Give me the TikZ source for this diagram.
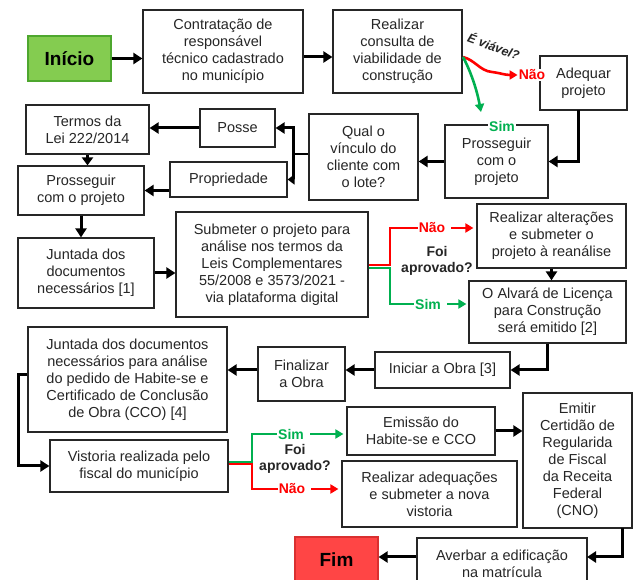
\documentclass[tikz,border=0pt]{standalone}
\usepackage{fontspec}
\setmainfont{Liberation Sans}
\usetikzlibrary{arrows.meta}
\definecolor{gr}{HTML}{00B050}
\definecolor{rd}{HTML}{FF0000}
\definecolor{inifill}{HTML}{84CC50}
\definecolor{inidraw}{HTML}{4EA72E}
\definecolor{fimfill}{HTML}{FF4545}
\definecolor{fimdraw}{HTML}{D93030}
\definecolor{txt}{HTML}{262626}
\newcommand\fsbox{\fontsize{14.5}{17}\selectfont}
\newcommand\fslbl{\bfseries\fontsize{14}{16.5}\selectfont}
\begin{document}
\begin{tikzpicture}[x=1pt,y=-1pt,
  box/.style={draw=black!85, line width=1.2pt, fill=white, align=center, inner sep=0pt, font=\fsbox, text=txt},
  blk/.style={line width=3pt, black, -{Triangle[length=9pt,width=11pt]}},
  gar/.style={line width=2pt, gr, -{Triangle[length=8pt,width=9pt]}},
  rar/.style={line width=2pt, rd, -{Triangle[length=8pt,width=9pt]}},
  gln/.style={line width=2pt, gr},
  rln/.style={line width=2pt, rd},
  lbl/.style={font=\fslbl, inner sep=1pt, fill=white},
  qlbl/.style={font=\fslbl, align=center, inner sep=0pt, text=txt},
]
\useasboundingbox (0,0) rectangle (633,580);
\fill[white] (0,0) rectangle (633,580);
\clip (0,0) rectangle (633,580);

% nodes
\node[box, draw=inidraw, fill=inifill, text=black, font=\bfseries\fontsize{19}{22}\selectfont, minimum width=83pt, minimum height=45pt] (inicio) at (69.5,58.5) {Início};
\node[box, minimum width=160pt, minimum height=83pt] (contr) at (223,51.5) {Contratação de\\responsável\\técnico cadastrado\\no município};
\node[box, minimum width=129pt, minimum height=83pt] (consulta) at (397.5,51.5) {Realizar\\consulta de\\viabilidade de\\construção};
\node[box, minimum width=87pt, minimum height=54pt] (adequar) at (583.5,83) {Adequar\\projeto};
\node[box, minimum width=103pt, minimum height=73pt] (prosR) at (496.5,161.5) {Prosseguir\\com o\\projeto};
\node[box, minimum width=109pt, minimum height=86pt] (qual) at (363.5,157) {Qual o\\vínculo do\\cliente com\\o lote?};
\node[box, minimum width=75pt, minimum height=38pt] (posse) at (237.5,128) {Posse};
\node[box, minimum width=117pt, minimum height=35pt] (prop) at (228.5,179.5) {Propriedade};
\node[box, minimum width=123pt, minimum height=49pt] (termos) at (87.5,129.5) {Termos da\\Lei 222/2014};
\node[box, minimum width=126pt, minimum height=49pt] (prosL) at (81,190.5) {Prosseguir\\com o projeto};
\node[box, minimum width=136pt, minimum height=70pt] (junt1) at (86,273) {Juntada dos\\documentos\\necessários [1]};
\node[box, minimum width=192pt, minimum height=105pt] (subm) at (272,264.5) {Submeter o projeto para\\análise nos termos da\\Leis Complementares\\55/2008 e 3573/2021 -\\via plataforma digital};
\node[box, minimum width=149pt, minimum height=64pt] (alter) at (551.5,236) {Realizar alterações\\e submeter o\\projeto à reanálise};
\node[box, minimum width=157pt, minimum height=62pt] (alvara) at (547.5,312) {O Alvará de Licença\\para Construção\\será emitido [2]};
\node[box, minimum width=135pt, minimum height=36pt] (iniciar) at (442.5,370) {Iniciar a Obra [3]};
\node[box, minimum width=87pt, minimum height=54pt] (final) at (301.5,374) {Finalizar\\a Obra};
\node[box, minimum width=199pt, minimum height=105pt] (junt4) at (127.5,379.5) {Juntada dos documentos\\necessários para análise\\do pedido de Habite-se e\\Certificado de Conclusão\\de Obra (CCO) [4]};
\node[box, minimum width=178pt, minimum height=52pt] (vist) at (139,466) {Vistoria realizada pelo\\fiscal do município};
\node[box, minimum width=148pt, minimum height=48pt] (emis) at (421,431) {Emissão do\\Habite-se e CCO};
\node[box, minimum width=175pt, minimum height=66pt] (adeq2) at (429.5,494) {Realizar adequações\\e submeter a nova\\vistoria};
\node[box, minimum width=109pt, minimum height=135pt] (emitir) at (577.5,460.5) {Emitir\\Certidão de\\Regularida\\de Fiscal\\da Receita\\Federal\\(CNO)};
\node[box, minimum width=170pt, minimum height=52pt] (averbar) at (502,564) {Averbar a edificação\\na matrícula};
\node[box, draw=fimdraw, fill=fimfill, text=black, font=\bfseries\fontsize{19}{22}\selectfont, minimum width=83pt, minimum height=45pt] (fim) at (336.5,559.5) {Fim};

% labels
\node[rotate=-20, font=\bfseries\itshape\fontsize{12.5}{14}\selectfont, text=txt, inner sep=0pt] (ev) at (494,46) {É viável?};
\node[lbl, text=rd] (n0) at (532,75) {Não};
\node[lbl, text=gr] (s0) at (502,126) {Sim};
\node[lbl, text=rd] (n1) at (432,228) {Não};
\node[lbl, text=gr] (s1) at (428,304) {Sim};
\node[qlbl] (fa1) at (437,261) {Foi\\aprovado?};
\node[lbl, text=gr] (s2) at (291,434) {Sim};
\node[lbl, text=rd] (n2) at (292,489) {Não};
\node[qlbl] (fa2) at (295,459) {Foi\\aprovado?};

% coordinates
\coordinate (cs) at (463,57);
\coordinate (aq) at (578,110);
\coordinate (qj) at (293,154);
\coordinate (b1r) at (390,265.5);
\coordinate (b1g) at (390,268.5);
\coordinate (jv) at (18,375);
\coordinate (b2g) at (252,462);
\coordinate (b2r) at (252,464.5);
\coordinate (ea) at (622,528);
\coordinate (av) at (587,557);

% connectors
\draw[blk] (inicio.east) -- (inicio.east -| contr.west);
\draw[blk] (contr.east |- cs) -- (consulta.west |- cs);
\draw[rar, line width=2.6pt] (cs) .. controls (475,60) and (480,71) .. (492,72) .. controls (500,73) and (505,75) .. (n0.west);
\draw[gar, line width=2.6pt] (cs) .. controls (468,66) and (476,85) .. (481,112);
\draw[blk] (aq) |- (prosR.east);
\draw[blk] (prosR.west) -- (qual.east |- prosR.west);
\draw[line width=2.5pt] (qual.west |- qj) -- (qj);
\draw[blk] (qj) |- (posse.east);
\draw[line width=3pt, black, -{Triangle[length=7pt,width=10pt]}] (qj) |- (prop.east);
\draw[blk] (posse.west) -- (termos.east |- posse.west);
\draw[blk] (prop.west |- prosL.east) -- (prosL.east);
\draw[line width=2.5pt, black, -{Triangle[length=8pt,width=11pt]}] (termos.south) -- (termos.south |- prosL.north);
\draw[blk] (prosL.south) -- (prosL.south |- junt1.north);
\draw[blk] (junt1.east) -- (junt1.east -| subm.west);
\draw[gln] (subm.east |- b1g) -- (b1g) |- (s1.west);
\draw[rln] (subm.east |- b1r) -- (b1r) |- (n1.west);
\draw[rar, shorten <=5pt, shorten >=3pt] (n1.east) -- (alter.west |- n1.east);
\draw[gar, shorten <=5pt, shorten >=2pt] (s1.east) -- (alvara.west |- s1.east);
\draw[blk] (alter.south) -- (alter.south |- alvara.north);
\draw[blk] (alvara.south) |- (iniciar.east);
\draw[blk] (iniciar.west) -- (final.east |- iniciar.west);
\draw[blk] (final.west |- iniciar.west) -- (junt4.east |- iniciar.west);
\draw[blk] (junt4.west |- jv) -- (jv) |- (vist.west);
\draw[gln] (vist.east |- b2g) -- (b2g) |- (s2.west);
\draw[rln] (vist.east |- b2r) -- (b2r) |- (n2.west);
\draw[gar, shorten <=5pt, shorten >=3pt] (s2.east) -- (emis.west |- s2.east);
\draw[rar, shorten <=5pt, shorten >=3pt] (n2.east) -- (adeq2.west |- n2.east);
\draw[blk] (emis.east) -- (emitir.west |- emis.east);
\draw[blk] (ea) |- (av);
\draw[blk] (averbar.west |- av) -- (fim.east |- av);
\end{tikzpicture}
\end{document}
